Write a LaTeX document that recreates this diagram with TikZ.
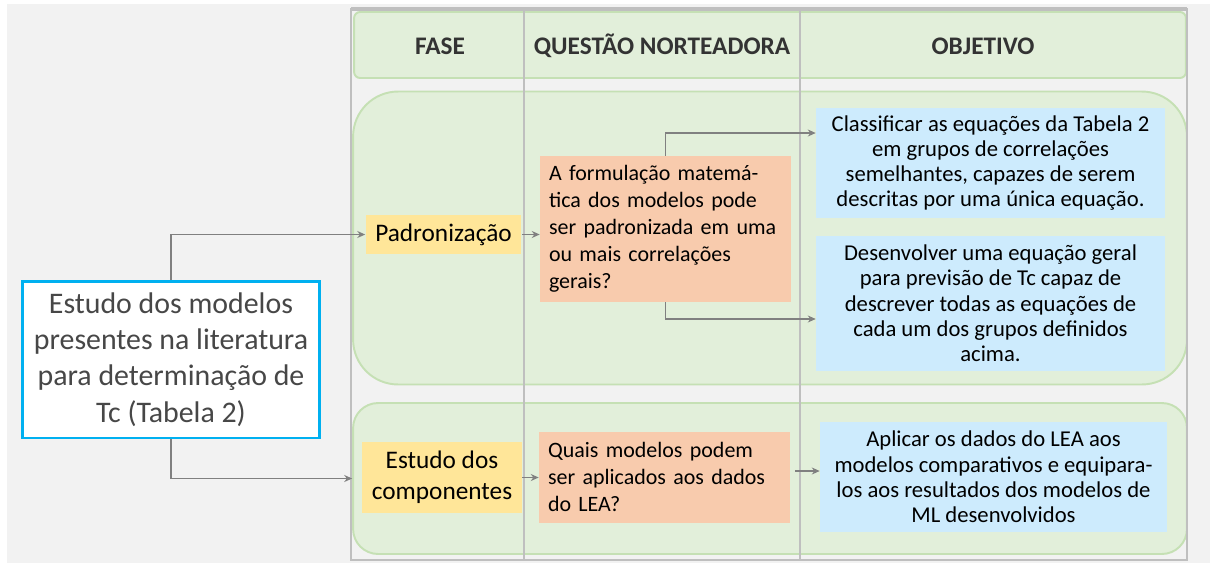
\documentclass[tikz,border=0pt]{standalone}
\usepackage{fontspec}
\setmainfont{Carlito}
\usepackage{xcolor}
\usetikzlibrary{arrows.meta}
\definecolor{bggray}{HTML}{F2F2F2}
\definecolor{framegray}{HTML}{BFBFBF}
\definecolor{panelfill}{HTML}{E2EFDA}
\definecolor{paneldraw}{HTML}{C5E0B4}
\definecolor{phaseyel}{HTML}{FFE699}
\definecolor{questora}{HTML}{F8CBAD}
\definecolor{objblue}{HTML}{CDEBFD}
\definecolor{studycyan}{HTML}{00B0F0}
\definecolor{arrgray}{HTML}{808080}
\definecolor{headtxt}{HTML}{333333}
\definecolor{studytxt}{HTML}{474747}

\begin{document}
\begin{tikzpicture}[x=0.02cm, y=-0.02cm,
    panel/.style={fill=panelfill, draw=paneldraw, line width=1.1pt},
    phasebox/.style={fill=phaseyel, inner sep=0pt, align=center, text=black,
        font=\fontsize{14.4}{17.6}\selectfont},
    questbox/.style={fill=questora, inner sep=0pt, align=left, text=black,
        text width=4.66cm, minimum width=5.02cm,
        font=\fontsize{12.5}{15.3}\selectfont},
    objbox/.style={fill=objblue, inner sep=0pt, align=center, text=black,
        minimum width=6.98cm, font=\fontsize{12.9}{14.4}\selectfont},
    headlabel/.style={text=headtxt, font=\fontsize{14.4}{16}\selectfont\bfseries},
    arr/.style={draw=arrgray, line width=0.65pt, -{Stealth[length=4.5pt,width=4pt]}}]
    \useasboundingbox (0,0) rectangle (1216,565);
    \fill[bggray] (7,4) rectangle (1210,563);
    \node[panel, rounded corners=0.12cm, minimum width=16.64cm, minimum height=1.32cm] (head) at (770,45) {};
    \node[panel, rounded corners=0.9cm, minimum width=16.68cm, minimum height=5.86cm] (ph1) at (770,238) {};
    \node[panel, rounded corners=0.5cm, minimum width=16.68cm, minimum height=3.02cm] (ph2) at (770,478.5) {};
    \draw[framegray, line width=1.2pt] (351,9) rectangle (1187,560);
    \draw[framegray, line width=2pt] (351,9) -- (1187,9);
    \draw[framegray, line width=1pt] (524,9) -- (524,560) (800,9) -- (800,560);
    \node[headlabel] (hfase) at (440,46) {FASE};
    \node[headlabel] (hquest) at (662,46) {QUESTÃO NORTEADORA};
    \node[headlabel] (hobj) at (983,46) {OBJETIVO};
    \node[fill=white, draw=studycyan, line width=1.7pt, minimum width=5.96cm, minimum height=3.14cm,
        align=center, text=studytxt, font=\fontsize{17}{20.7}\selectfont] (study) at (171,359.5)
        {Estudo dos modelos\\presentes na literatura\\para determinação de\\Tc (Tabela 2)};
    \node[phasebox, minimum width=3.12cm, minimum height=0.78cm] (pad) at (443.5,234.5) {Padronização};
    \node[phasebox, minimum width=3.2cm, minimum height=1.42cm] (comp) at (442,477.5) {Estudo dos\\componentes};
    \node[questbox, minimum height=2.92cm] (q1) at (665.5,229)
        {A formulação matemá-\\tica dos modelos pode\\ser padronizada em uma\\ou mais correlações\\gerais?};
    \node[questbox, minimum height=1.82cm] (q2) at (664.5,477)
        {Quais modelos podem\\ser aplicados aos dados\\do LEA?};
    \node[objbox, minimum height=2.2cm] (o1) at (990.5,163)
        {Classificar as equações da Tabela 2\\em grupos de correlações\\semelhantes, capazes de serem\\descritas por uma única equação.};
    \node[objbox, minimum height=2.72cm] (o2) at (990.5,303.5)
        {Desenvolver uma equação geral\\para previsão de Tc capaz de\\descrever todas as equações de\\cada um dos grupos definidos\\acima.};
    \node[objbox, minimum width=6.94cm, minimum height=2.2cm] (o3) at (993.5,477)
        {Aplicar os dados do LEA aos\\modelos comparativos e equipara-\\los aos resultados dos modelos de\\ML desenvolvidos};
    \draw[arr] (study.north) |- (pad.west);
    \draw[arr] (study.south) |- (ph2.west);
    \draw[arr] (pad.east) -- (pad.east -| q1.west);
    \draw[arr] (q1.north) |- ([yshift=0.6cm]o1.west);
    \draw[arr] (q1.south) |- ([yshift=-0.31cm]o2.west);
    \draw[arr] (comp.east) -- (comp.east -| q2.west);
    \draw[arr, shorten <=0.1cm] ([yshift=0.12cm]q2.east) -- ([yshift=0.12cm]o3.west);
\end{tikzpicture}
\end{document}
